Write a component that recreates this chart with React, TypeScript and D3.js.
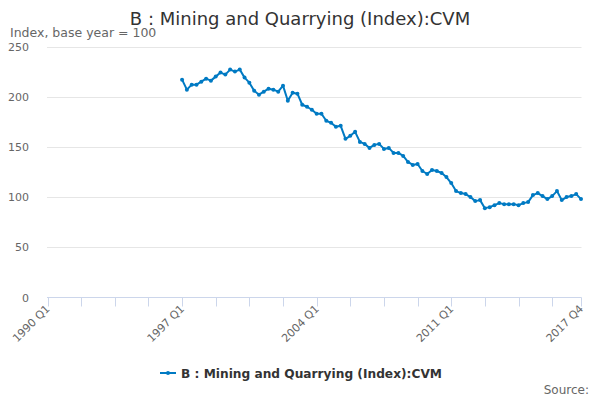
import * as d3 from 'd3';

// Quarterly index values, 1997 Q1 .. 2017 Q4
const firstYear = 1990;
const dataStartIndex = 28; // 1997 Q1, counted in quarters from 1990 Q1
const values: number[] = [
  217, 207, 212, 212, 215, 218, 216, 220, // 1997-1998
  224, 222, 227, 225, 227, 219, 214, 206, // 1999-2000
  202, 205, 208, 207, 205, 211, 196, 204, // 2001-2002
  203, 192, 190, 187, 183, 183, 176, 174, // 2003-2004
  170, 171, 158, 161, 165, 155, 153, 149, // 2005-2006
  152, 153, 148, 149, 144, 144, 141, 135, // 2007-2008
  132, 133, 126, 123, 127, 126, 124, 120, // 2009-2010
  114, 106, 104, 103, 100, 96, 97, 89, // 2011-2012
  90, 92, 94, 93, 93, 93, 92, 94, // 2013-2014
  95, 102, 104, 101, 98, 101, 106, 97, // 2015-2016
  100, 101, 103, 98, // 2017
];

const yTicks = [0, 50, 100, 150, 200, 250];
const xTickStep = 7; // quarters between tick marks
const xLastIndex = 111; // 2017 Q4
const xLabelIndexes = [0, 28, 56, 84, 111];

const title = 'B : Mining and Quarrying (Index):CVM';
const yTitle = 'Index, base year = 100';
const seriesName = 'B : Mining and Quarrying (Index):CVM';

const quarterLabel = (i: number) => `${firstYear + Math.floor(i / 4)} Q${(i % 4) + 1}`;

const width = 600;
const height = 400;
const marginLeft = 47;
const marginRight = 19;
const plotTop = 46.5;
const plotBottom = 297.5;
const font = "'DejaVu Sans', sans-serif";
const blue = '#007ac3';

export default function App() {
  const x = d3.scaleLinear().domain([0, xLastIndex]).range([marginLeft + 0.5, width - marginRight]);
  const y = d3.scaleLinear().domain([0, 250]).range([plotBottom, plotTop]);

  const points = values.map((v, k) => ({ i: dataStartIndex + k, v }));
  const line = d3.line<{ i: number; v: number }>()
    .x(d => x(d.i))
    .y(d => y(d.v));

  const tickIndexes = d3.range(0, xLastIndex, xTickStep).concat([xLastIndex]);

  return (
    <div style={{ position: 'absolute', left: 0, top: 0 }}>
      <svg width={width} height={height} style={{ fontFamily: font, display: 'block' }}>
        <rect width={width} height={height} fill="#ffffff" />
        <text x={300} y={25} textAnchor="middle" fontSize={18} fill="#333333">{title}</text>
        <text x={10} y={37} fontSize={12.5} fill="#666666">{yTitle}</text>

        {/* y grid and labels */}
        {yTicks.map(t => (
          <g key={t}>
            {t > 0 && (
              <line x1={marginLeft} x2={width - marginRight + 0.5} y1={Math.round(y(t)) + 0.5} y2={Math.round(y(t)) + 0.5}
                stroke="#e6e6e6" strokeWidth={1} />
            )}
            <text x={29} y={y(t) + 4} textAnchor="end" fontSize={11} fill="#666666">{t}</text>
          </g>
        ))}

        {/* x axis */}
        <line x1={marginLeft} x2={width - marginRight + 0.5} y1={plotBottom} y2={plotBottom} stroke="#ccd6eb" strokeWidth={1} />
        {tickIndexes.map(i => (
          <line key={i} x1={Math.round(x(i)) + 0.5} x2={Math.round(x(i)) + 0.5} y1={plotBottom} y2={plotBottom + 9}
            stroke="#ccd6eb" strokeWidth={1} />
        ))}
        {xLabelIndexes.map(i => (
          <text key={i} transform={`translate(${x(i) + 3},${plotBottom + 12}) rotate(-45)`}
            textAnchor="end" fontSize={11} fill="#666666">{quarterLabel(i)}</text>
        ))}

        {/* series */}
        <path d={line(points) ?? ''} fill="none" stroke={blue} strokeWidth={2} strokeLinejoin="round" strokeLinecap="round" />
        {points.map(p => (
          <circle key={p.i} cx={x(p.i)} cy={y(p.v)} r={2} fill={blue} />
        ))}

        {/* legend */}
        <line x1={160} x2={176} y1={373} y2={373} stroke={blue} strokeWidth={2} />
        <circle cx={168} cy={373} r={2} fill={blue} />
        <text x={181} y={377.5} fontSize={12.2} fontWeight="bold" fill="#333333">{seriesName}</text>

        <text x={589} y={394} textAnchor="end" fontSize={12} fill="#666666">Source:</text>
      </svg>
    </div>
  );
}
